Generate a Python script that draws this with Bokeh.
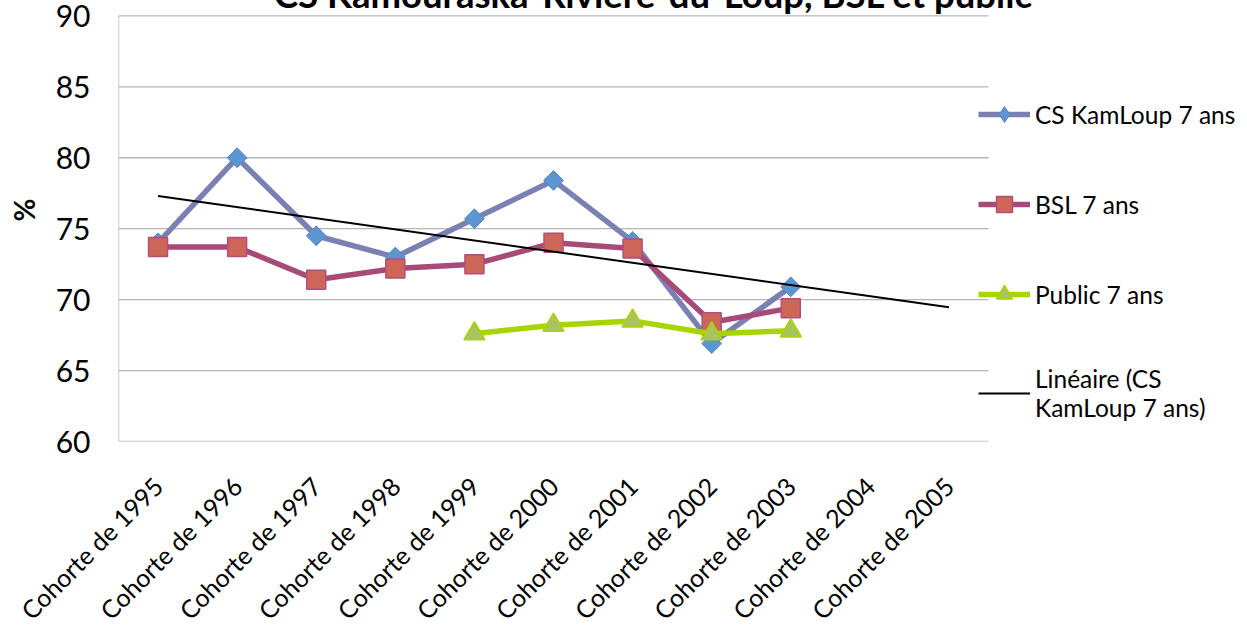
import math
import numpy as np
from bokeh.plotting import figure
from bokeh.models import Range1d, FixedTicker, Legend, LegendItem, Label
from bokeh.embed import file_html
from bokeh.resources import INLINE

# ---- data ----
categories = ["Cohorte de 1995", "Cohorte de 1996", "Cohorte de 1997", "Cohorte de 1998",
              "Cohorte de 1999", "Cohorte de 2000", "Cohorte de 2001", "Cohorte de 2002",
              "Cohorte de 2003", "Cohorte de 2004", "Cohorte de 2005"]
cs_cats = categories[:9]
cs_values = [74.0, 80.0, 74.5, 73.0, 75.7, 78.4, 74.1, 66.9, 70.9]
bsl_cats = categories[:9]
bsl_values = [73.7, 73.7, 71.4, 72.2, 72.5, 74.0, 73.6, 68.4, 69.4]
public_cats = categories[4:9]
public_values = [67.6, 68.2, 68.5, 67.6, 67.8]
y_ticks = [60, 65, 70, 75, 80, 85, 90]

title_text = "CS Kamouraska-Rivière-du-Loup, BSL et public"
y_label = "%"
FONT = "Lato"

def pos(cats):
    return [categories.index(c) + 0.5 for c in cats]

cs_x, bsl_x, pub_x = pos(cs_cats), pos(bsl_cats), pos(public_cats)
tick_pos = pos(categories)

# linear trendline of CS series (Excel style), extended to last category
slope, intercept = np.polyfit(cs_x, cs_values, 1)
trend_x = [tick_pos[0], tick_pos[-1]]
trend_vals = [slope * x + intercept for x in trend_x]

W, H = 1247, 660
FRAME_LEFT = 118
FRAME_BOTTOM = 471                      # canvas px (page y = canvas y - 22)
UNIT = 870 / len(categories)            # px per category
X_END = (W - FRAME_LEFT) / UNIT         # frame runs to the right edge (room for legend)
PX_PER_PCT = 433 / 30
Y_TOP = 60 + FRAME_BOTTOM / PX_PER_PCT  # frame runs to the top edge (room for title)

p = figure(width=W, height=H,
           x_range=Range1d(0, X_END),
           y_range=Range1d(60, Y_TOP),
           output_backend="svg", toolbar_location=None,
           min_border_left=FRAME_LEFT, min_border_right=0,
           min_border_top=0, min_border_bottom=H - FRAME_BOTTOM)
p.styles = {"position": "relative", "top": "-22px", "margin-bottom": "-42px"}
p.outline_line_color = None
p.background_fill_color = "white"
p.border_fill_color = "white"

p.xgrid.grid_line_color = None
p.ygrid.grid_line_color = None
p.yaxis.ticker = FixedTicker(ticks=y_ticks)
p.xaxis.ticker = FixedTicker(ticks=tick_pos)
p.xaxis.major_label_overrides = {t: c for t, c in zip(tick_pos, categories)}

for ax in (p.xaxis[0], p.yaxis[0]):
    ax.major_tick_line_color = None
    ax.minor_tick_line_color = None
    ax.major_tick_out = 0
    ax.major_tick_in = 0
    ax.axis_line_color = None
    ax.major_label_text_color = "black"
    ax.major_label_text_font = FONT

p.yaxis.major_label_text_font_size = "30px"
p.yaxis.major_label_standoff = 28
p.yaxis.axis_label = y_label
p.yaxis.axis_label_text_font = FONT
p.yaxis.axis_label_text_font_size = "28px"
p.yaxis.axis_label_text_font_style = "bold"
p.yaxis.axis_label_text_color = "black"
p.yaxis.axis_label_standoff = 12

p.xaxis.major_label_orientation = math.pi / 4
p.xaxis.major_label_text_font_size = "25px"
p.xaxis.major_label_standoff = 40

# horizontal gridlines (60 = category axis line) and value axis line, over the plot area only
n = len(y_ticks)
p.segment(x0=[0] * n, y0=y_ticks, x1=[len(categories)] * n, y1=y_ticks,
          line_color="#b5b5b5", line_width=1.3)
p.segment(x0=[0], y0=[y_ticks[0]], x1=[0], y1=[y_ticks[-1]],
          line_color="#b0b0b0", line_width=1.3)

# series
cs_line = p.line(cs_x, cs_values, line_color="#7b80b2", line_width=5.5)
# diamond markers (their legend symbol); the rotated squares drawn on top give the plot shape
cs_key = p.scatter(cs_x, cs_values, marker="diamond", size=18,
                   fill_color="#5b96d1", line_color="#5a86c0", line_width=1)
cs_pts = p.scatter(cs_x, cs_values, marker="square", angle=math.pi / 4, size=14,
                   fill_color="#5b96d1", line_color="#5a86c0", line_width=1)
bsl_line = p.line(bsl_x, bsl_values, line_color="#a84a78", line_width=5.5)
bsl_pts = p.scatter(bsl_x, bsl_values, marker="square", size=19,
                    fill_color="#cd6558", line_color="#b0507a", line_width=1.5)
pub_line = p.line(pub_x, public_values, line_color="#a8d400", line_width=5.5)
pub_pts = p.scatter(pub_x, public_values, marker="triangle", size=21,
                    fill_color="#a9c45e", line_color="#a8d400", line_width=1.5)
trend = p.line(trend_x, trend_vals, line_color="black", line_width=2)

legend = Legend(items=[
    LegendItem(label="CS KamLoup 7 ans", renderers=[cs_line, cs_key]),
    LegendItem(label="BSL 7 ans", renderers=[bsl_line, bsl_pts]),
    LegendItem(label="Public 7 ans", renderers=[pub_line, pub_pts]),
    LegendItem(label="Linéaire (CS\nKamLoup 7 ans)", renderers=[trend]),
], location=(860, 19))
legend.background_fill_alpha = 0
legend.border_line_color = None
legend.padding = 0
legend.margin = 0
legend.spacing = 50
legend.glyph_width = 52
legend.glyph_height = 40
legend.label_height = 40
legend.label_standoff = 5
legend.label_text_font = FONT
legend.label_text_font_size = "24.5px"
legend.label_text_color = "black"
p.add_layout(legend, "center")

# title (partly cut at the top, like the reference)
p.add_layout(Label(x=535 / UNIT, y=90 + 22 / PX_PER_PCT, text=title_text, text_align="center",
                   text_baseline="alphabetic", text_font=FONT, text_font_size="36.5px",
                   text_font_style="bold", text_color="black"))

open("out.html", "w").write(file_html(p, INLINE))
